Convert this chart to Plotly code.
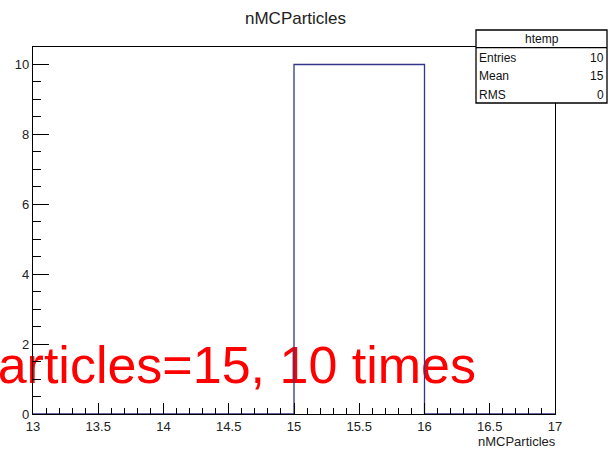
import plotly.graph_objects as go

# ---- data ----
bin_edges = [13, 14, 15, 16, 17]
counts = [0, 0, 10, 0]
title_text = "nMCParticles"
axis_title = "nMCParticles"
overlay_text = "nMCParticles=15, 10 times"
stats_name = "htemp"
stats_labels = ["Entries", "Mean", "RMS"]
stats_values = ["10", "15", "0"]

# ---- layout geometry (pixels) ----
W, H = 616, 455
L, R, T, B = 33, 61, 47, 41
pw, ph = W - L - R, H - T - B
xr = [13, 17]
yr = [0, 10.5]

def px(x):
    return (x - L) / pw

def py(y):
    return (H - B - y) / ph

FONT = "Liberation Sans, Arial, sans-serif"

fig = go.Figure()

# red overlay text (drawn as a trace so the histogram line sits above it)
fig.add_trace(go.Scatter(
    x=[xr[0] + (476 - L) / pw * (xr[1] - xr[0])],
    y=[(H - B - 370) / ph * yr[1]],
    mode="text",
    text=[overlay_text],
    textposition="middle left",
    textfont=dict(family=FONT, size=52, color="#ff0000"),
    cliponaxis=False,
    hoverinfo="skip",
    showlegend=False,
))

# histogram outline (step)
fig.add_trace(go.Scatter(
    x=bin_edges,
    y=counts + [counts[-1]],
    mode="lines",
    line=dict(shape="hv", color="#35358a", width=1.3),
    hoverinfo="skip",
    showlegend=False,
))

axis_common = dict(
    showgrid=False, zeroline=False, showline=True, linecolor="black",
    linewidth=1.3, mirror=True, ticks="inside", tickcolor="black",
    tickfont=dict(family=FONT, size=13, color="#222"),
)
fig.update_xaxes(range=xr, dtick=0.5, tick0=13, ticklen=11, tickwidth=1,
                 minor=dict(dtick=0.1, ticklen=6, ticks="inside", tickcolor="black"),
                 **axis_common)
fig.update_yaxes(range=yr, dtick=2, tick0=0, ticklen=16, tickwidth=1,
                 minor=dict(dtick=0.5, ticklen=8, ticks="inside", tickcolor="black"),
                 **axis_common)

shapes = []
annotations = []

# stats box
bx0, bx1, by0, by1, bsep = 476, 607, 30, 103, 47.7
shapes.append(dict(type="rect", xref="paper", yref="paper",
                   x0=px(bx0), x1=px(bx1), y0=py(by1), y1=py(by0),
                   line=dict(color="black", width=1.3), fillcolor="white", layer="above"))
shapes.append(dict(type="line", xref="paper", yref="paper",
                   x0=px(bx0), x1=px(bx1), y0=py(bsep), y1=py(bsep),
                   line=dict(color="black", width=1.3), layer="above"))
annotations.append(dict(xref="paper", yref="paper", x=px((bx0 + bx1) / 2), y=py(39),
                        text=stats_name, showarrow=False, xanchor="center", yanchor="middle",
                        font=dict(family=FONT, size=12, color="#111")))
row_y = [58, 76, 95]
for lab, val, ry in zip(stats_labels, stats_values, row_y):
    annotations.append(dict(xref="paper", yref="paper", x=px(bx0 + 1), y=py(ry),
                            text=lab, showarrow=False, xanchor="left", yanchor="middle",
                            font=dict(family=FONT, size=12, color="#111")))
    annotations.append(dict(xref="paper", yref="paper", x=px(bx1 - 1), y=py(ry),
                            text=val, showarrow=False, xanchor="right", yanchor="middle",
                            font=dict(family=FONT, size=12, color="#111")))

# title
annotations.append(dict(xref="paper", yref="paper", x=px(295), y=py(19),
                        text=title_text, showarrow=False, xanchor="center", yanchor="middle",
                        font=dict(family=FONT, size=17, color="#222")))
# x axis title
annotations.append(dict(xref="paper", yref="paper", x=px(558), y=py(441),
                        text=axis_title, showarrow=False, xanchor="right", yanchor="middle",
                        font=dict(family=FONT, size=13, color="#222")))

fig.update_layout(
    width=W, height=H,
    margin=dict(l=L, r=R, t=T, b=B),
    paper_bgcolor="white", plot_bgcolor="white",
    shapes=shapes, annotations=annotations,
    showlegend=False,
)

fig.write_html("out.html")
